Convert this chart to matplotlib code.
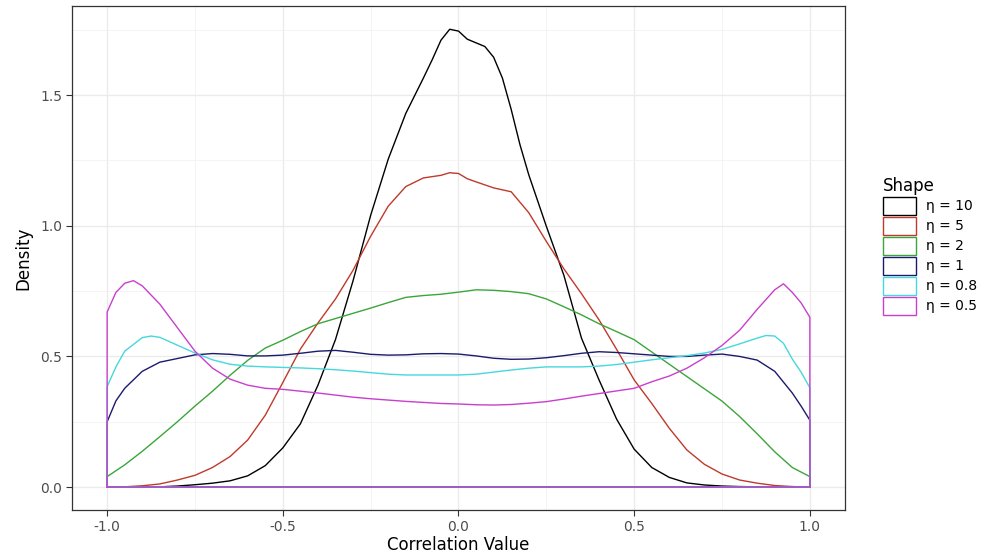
import numpy as np
import matplotlib
matplotlib.use("Agg")
import matplotlib.pyplot as plt
from matplotlib.patches import Patch

# correlation grid (step 0.05) and density
corr = np.round(np.arange(-1.0, 1.0001, 0.05), 2)

eta_10 = [0.0, 0.0, 0.0, 0.001, 0.004, 0.009, 0.015, 0.024, 0.043, 0.082,
          0.15, 0.242, 0.39, 0.565, 0.79, 1.04, 1.255, 1.43, 1.565, 1.71,
          1.745, 1.70, 1.645, 1.445, 1.195, 0.998, 0.81, 0.57, 0.41, 0.26,
          0.145, 0.075, 0.037, 0.016, 0.008, 0.004, 0.002, 0.001, 0.0, 0.0, 0.0]
eta_5 = [0.0, 0.001, 0.005, 0.012, 0.027, 0.045, 0.075, 0.117, 0.18, 0.275,
         0.40, 0.528, 0.628, 0.72, 0.83, 0.96, 1.075, 1.15, 1.183, 1.193,
         1.20, 1.168, 1.145, 1.13, 1.05, 0.94, 0.835, 0.74, 0.64, 0.527,
         0.41, 0.32, 0.225, 0.142, 0.087, 0.05, 0.027, 0.015, 0.006, 0.002, 0.0]
eta_2 = [0.04, 0.085, 0.137, 0.193, 0.25, 0.31, 0.367, 0.428, 0.485, 0.532,
         0.562, 0.595, 0.625, 0.645, 0.665, 0.685, 0.706, 0.726, 0.733, 0.738,
         0.746, 0.755, 0.753, 0.748, 0.74, 0.72, 0.69, 0.659, 0.625, 0.595,
         0.564, 0.517, 0.47, 0.423, 0.376, 0.329, 0.27, 0.204, 0.135, 0.075, 0.04]
eta_1 = [0.25, 0.378, 0.443, 0.478, 0.492, 0.506, 0.511, 0.508, 0.502, 0.502,
         0.505, 0.512, 0.52, 0.523, 0.516, 0.508, 0.505, 0.506, 0.51, 0.511,
         0.509, 0.502, 0.493, 0.489, 0.49, 0.495, 0.503, 0.512, 0.518, 0.515,
         0.51, 0.505, 0.5, 0.5, 0.505, 0.509, 0.5, 0.486, 0.443, 0.36, 0.256]
eta_08 = [0.384, 0.52, 0.572, 0.573, 0.543, 0.513, 0.487, 0.47, 0.463, 0.46,
          0.458, 0.456, 0.453, 0.449, 0.444, 0.438, 0.432, 0.429, 0.429, 0.429,
          0.429, 0.432, 0.44, 0.448, 0.455, 0.46, 0.46, 0.46, 0.463, 0.469,
          0.478, 0.487, 0.495, 0.503, 0.513, 0.527, 0.548, 0.57, 0.578, 0.49, 0.38]
eta_05 = [0.67, 0.78, 0.77, 0.70, 0.61, 0.52, 0.455, 0.413, 0.39, 0.378,
          0.374, 0.367, 0.36, 0.352, 0.344, 0.338, 0.333, 0.328, 0.324, 0.32,
          0.318, 0.315, 0.314, 0.316, 0.321, 0.327, 0.337, 0.348, 0.358, 0.368,
          0.378, 0.403, 0.425, 0.455, 0.495, 0.542, 0.60, 0.68, 0.755, 0.745, 0.65]

# extra readings where the curves bend sharply (x, density)
eta_10_extra = [(-0.075, 1.635), (-0.025, 1.752), (0.025, 1.714),
                (0.075, 1.686), (0.125, 1.565), (0.175, 1.31)]
eta_5_extra = [(-0.025, 1.203), (0.025, 1.18)]
eta_2_extra = []
eta_1_extra = [(-0.975, 0.33), (0.975, 0.31)]
eta_08_extra = [(-0.975, 0.46), (-0.875, 0.578), (0.875, 0.58),
                (0.925, 0.55), (0.975, 0.44)]
eta_05_extra = [(-0.975, 0.745), (-0.925, 0.79), (0.925, 0.778), (0.975, 0.705)]

labels = ["\u03b7 = 10", "\u03b7 = 5", "\u03b7 = 2", "\u03b7 = 1", "\u03b7 = 0.8", "\u03b7 = 0.5"]
series = [eta_10, eta_5, eta_2, eta_1, eta_08, eta_05]
extras = [eta_10_extra, eta_5_extra, eta_2_extra, eta_1_extra, eta_08_extra, eta_05_extra]
colors = ["#000000", "#C0392B", "#3AA63A", "#1B1B6E", "#45D8DD", "#C93FCC"]

plt.rcParams['font.family'] = ['DejaVu Sans']

fig = plt.figure(figsize=(9.87, 5.53), dpi=100)
ax = fig.add_axes([72 / 987, 1 - 510 / 553, (845 - 72) / 987, (510 - 6) / 553])

# density outlines: curve closed along the baseline, like geom_density
for y, ex, c in zip(series, extras, colors):
    pts = sorted(list(zip(corr, y)) + ex)
    px = np.array([p[0] for p in pts])
    py = np.array([p[1] for p in pts])
    xs = np.concatenate([[px[0]], px, [px[-1], px[0]]])
    ys = np.concatenate([[0.0], py, [0.0, 0.0]])
    ax.plot(xs, ys, color=c, lw=1.0, solid_joinstyle='round')

ax.set_xlim(-1.1, 1.1)
ax.set_ylim(-0.0877, 1.841)
ax.set_xticks([-1.0, -0.5, 0.0, 0.5, 1.0])
ax.set_xticklabels(["-1.0", "-0.5", "0.0", "0.5", "1.0"])
ax.set_yticks([0.0, 0.5, 1.0, 1.5])
ax.set_yticklabels(["0.0", "0.5", "1.0", "1.5"])
ax.set_xticks([-0.75, -0.25, 0.25, 0.75], minor=True)
ax.set_yticks([0.25, 0.75, 1.25, 1.75], minor=True)
ax.grid(True, which='major', color='#EBEBEB', lw=1.0)
ax.grid(True, which='minor', color='#F2F2F2', lw=0.6)
ax.set_axisbelow(True)
ax.tick_params(which='major', length=4, width=0.8, color='#333333',
               labelcolor='#4D4D4D', labelsize=10, pad=3)
ax.tick_params(which='minor', length=0)
for s in ax.spines.values():
    s.set_color('#333333')
    s.set_linewidth(0.9)

ax.set_xlabel("Correlation Value", fontsize=12, labelpad=2)
ax.set_ylabel("Density", fontsize=12, labelpad=6)

handles = [Patch(facecolor='white', edgecolor=c, lw=1.0) for c in colors]
leg = fig.legend(handles, labels, title="Shape", loc='upper left',
                 bbox_to_anchor=(876 / 987, 1 - 170 / 553), frameon=False,
                 fontsize=10, title_fontsize=12, handlelength=2.4,
                 handleheight=1.6, labelspacing=0.15, handletextpad=0.7,
                 borderpad=0, alignment='left')

fig.savefig("out.png", dpi=100)
